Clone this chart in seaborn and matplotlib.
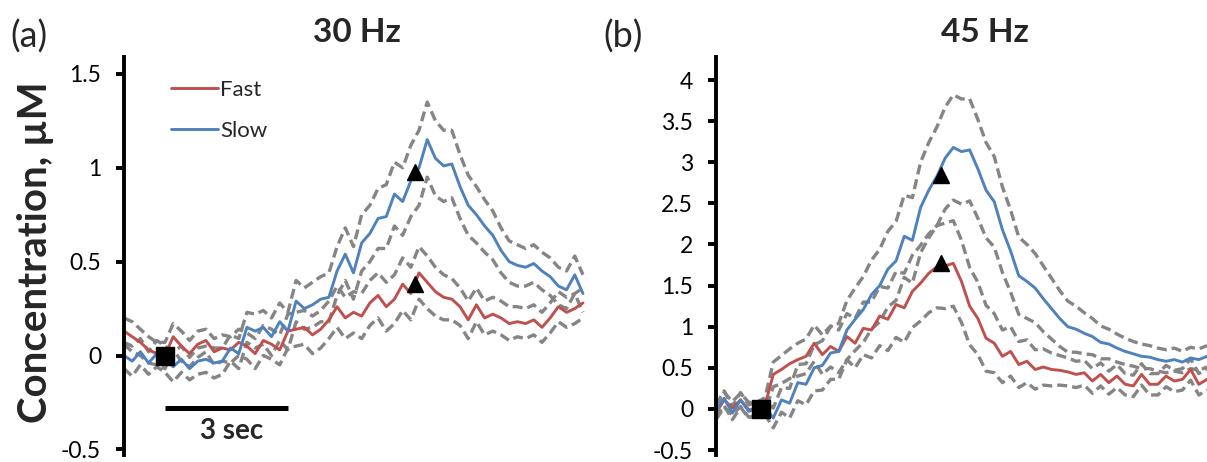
import numpy as np
import pandas as pd
import matplotlib
matplotlib.use("Agg")
import matplotlib.pyplot as plt
import seaborn as sns

# ---------------- data ----------------
# panel (a) 30 Hz, time grid 0..11.2 s, step 0.2 s
time_a = np.round(np.arange(0, 11.2001, 0.2), 2)
slow_a = [0.00, -0.03, 0.02, -0.04, 0.01, -0.02, -0.06, -0.02, -0.07, -0.03,
          -0.02, -0.04, -0.03, 0.04, 0.01, 0.15, 0.13, 0.15, 0.10, 0.18,
          0.13, 0.29, 0.25, 0.27, 0.30, 0.31, 0.45, 0.54, 0.44, 0.60,
          0.65, 0.73, 0.74, 0.86, 0.82, 0.93, 1.00, 1.15, 1.05, 1.01,
          1.02, 0.90, 0.80, 0.75, 0.69, 0.64, 0.56, 0.50, 0.48, 0.47,
          0.49, 0.45, 0.42, 0.37, 0.35, 0.43, 0.33]
fast_a = [0.13, 0.10, 0.07, 0.03, 0.01, 0.00, 0.10, 0.05, 0.01, 0.06,
          0.08, 0.02, 0.04, 0.03, 0.07, 0.05, 0.01, 0.08, 0.06, 0.03,
          0.13, 0.14, 0.15, 0.11, 0.14, 0.19, 0.26, 0.20, 0.23, 0.21,
          0.28, 0.32, 0.26, 0.30, 0.38, 0.33, 0.44, 0.39, 0.34, 0.31,
          0.30, 0.26, 0.19, 0.27, 0.20, 0.22, 0.20, 0.17, 0.18, 0.17,
          0.19, 0.15, 0.20, 0.26, 0.23, 0.25, 0.28]
sem_slow_a = [0.07, 0.08, 0.07, 0.06, 0.07, 0.07, 0.08, 0.07, 0.06, 0.07, 0.07, 0.08, 0.07,
              0.07, 0.08, 0.08, 0.09, 0.09, 0.10, 0.10, 0.10,
              0.11, 0.11, 0.12, 0.12, 0.13, 0.13, 0.14, 0.14, 0.15,
              0.15, 0.16, 0.17, 0.17, 0.18, 0.19, 0.20,
              0.20, 0.20, 0.19, 0.18, 0.17, 0.16, 0.15, 0.14,
              0.13, 0.12, 0.11, 0.11, 0.10, 0.10, 0.10, 0.10, 0.10, 0.10, 0.10, 0.10]
sem_fast_a = [0.07, 0.08, 0.07, 0.07, 0.06, 0.07, 0.07, 0.08, 0.07, 0.07, 0.06, 0.07, 0.07,
              0.07, 0.07, 0.07, 0.08, 0.08, 0.08, 0.08, 0.09,
              0.09, 0.09, 0.10, 0.10, 0.10, 0.11, 0.11, 0.11, 0.12,
              0.12, 0.12, 0.13, 0.13, 0.14, 0.14, 0.14,
              0.14, 0.13, 0.12, 0.11, 0.10, 0.10, 0.09, 0.09,
              0.09, 0.09, 0.09, 0.08, 0.08, 0.08, 0.08, 0.08, 0.08, 0.08, 0.08, 0.08]

# panel (b) 45 Hz, time grid 0..12.0 s, step 0.2 s
time_b = np.round(np.arange(0, 12.0001, 0.2), 2)
slow_b = [-0.03, 0.13, -0.05, 0.11, -0.03, 0.01, 0.02, -0.11, 0.11, 0.07,
          0.32, 0.30, 0.50, 0.53, 0.68, 0.70, 0.96, 1.09, 1.21, 1.39,
          1.50, 1.70, 1.80, 2.10, 2.05, 2.45, 2.66, 2.83, 3.05, 3.18,
          3.13, 3.15, 2.92, 2.66, 2.52, 2.18, 1.92, 1.62, 1.55, 1.47,
          1.34, 1.22, 1.10, 1.00, 0.97, 0.92, 0.88, 0.81, 0.79, 0.74,
          0.70, 0.67, 0.64, 0.63, 0.60, 0.58, 0.60, 0.57, 0.62, 0.60,
          0.64]
fast_b = [-0.05, 0.11, 0.01, 0.11, -0.01, 0.00, 0.05, 0.42, 0.48, 0.55,
          0.60, 0.64, 0.80, 0.66, 0.76, 0.70, 0.88, 0.80, 0.98, 0.96,
          1.13, 1.09, 1.27, 1.23, 1.43, 1.53, 1.65, 1.73, 1.74, 1.77,
          1.55, 1.25, 1.10, 0.86, 0.80, 0.64, 0.70, 0.54, 0.58, 0.48,
          0.51, 0.48, 0.47, 0.45, 0.42, 0.44, 0.34, 0.42, 0.32, 0.40,
          0.30, 0.28, 0.42, 0.30, 0.30, 0.40, 0.34, 0.36, 0.48, 0.30,
          0.36]
sem_slow_b = [0.08, 0.09, 0.08, 0.09, 0.08, 0.08, 0.09,
              0.12, 0.15, 0.18, 0.22, 0.25, 0.28, 0.30, 0.32,
              0.34, 0.36, 0.38, 0.40, 0.42, 0.44, 0.46, 0.48,
              0.50, 0.52, 0.55, 0.58, 0.60, 0.62, 0.64, 0.64,
              0.62, 0.60, 0.58, 0.55, 0.52, 0.50, 0.47, 0.45,
              0.42, 0.40, 0.37, 0.34, 0.31, 0.28, 0.25, 0.22,
              0.20, 0.18, 0.17, 0.16, 0.15, 0.15, 0.14, 0.14,
              0.14, 0.14, 0.13, 0.13, 0.13, 0.13]
sem_fast_b = [0.08, 0.09, 0.08, 0.08, 0.09, 0.08, 0.09,
              0.15, 0.17, 0.18, 0.20, 0.21, 0.22, 0.24, 0.25,
              0.26, 0.28, 0.30, 0.32, 0.34, 0.36, 0.38, 0.40,
              0.42, 0.44, 0.46, 0.48, 0.50, 0.52, 0.52, 0.50,
              0.47, 0.44, 0.40, 0.36, 0.32, 0.30, 0.28, 0.26,
              0.24, 0.22, 0.20, 0.18, 0.17, 0.16, 0.15, 0.15,
              0.14, 0.14, 0.14, 0.13, 0.13, 0.13, 0.13, 0.13,
              0.13, 0.13, 0.13, 0.13, 0.13, 0.13]

# markers: stimulation start (square) and peak times (triangles)
square_t_a, square_t_b = 1.0, 1.1
tri_t_a, tri_slow_a, tri_fast_a = 7.1, 0.98, 0.38
tri_t_b, tri_slow_b, tri_fast_b = 5.5, 2.85, 1.77

ticks_a = [-0.5, 0, 0.5, 1, 1.5]
ticklabels_a = ["-0.5", "0", "0.5", "1", "1.5"]
ticks_b = [-0.5, 0, 0.5, 1, 1.5, 2, 2.5, 3, 3.5, 4]
ticklabels_b = ["-0.5", "0", "0.5", "1", "1.5", "2", "2.5", "3", "3.5", "4"]

titles = ["30 Hz", "45 Hz"]
panel_tags = ["(a)", "(b)"]
series_names = ["Fast", "Slow"]
scale_bar_start, scale_bar_len, scale_bar_level = 1.0, 3.0, -0.277

# ---------------- style ----------------
sns.set_theme(style="white")
plt.rcParams["font.family"] = ["Lato", "DejaVu Sans"]

RED = "#C0504D"
BLUE = "#4F81BD"
GRAY = "#858585"

fig = plt.figure(figsize=(12.07, 4.62), dpi=100)
ax_a = fig.add_axes([124/1207, 7/462, 461/1207, 398/462])
ax_b = fig.add_axes([716/1207, 7/462, 491/1207, 398/462])


def draw_panel(ax, t, fast, slow, sem_f, sem_s, xlim, ylim, ticks, labels):
    fast = np.array(fast); slow = np.array(slow)
    sem_f = np.array(sem_f); sem_s = np.array(sem_s)
    df = pd.DataFrame({"t": t, series_names[0]: fast, series_names[1]: slow,
                       "fu": fast + sem_f, "fl": fast - sem_f,
                       "su": slow + sem_s, "sl": slow - sem_s})
    for col in ["fu", "fl", "su", "sl"]:
        sns.lineplot(data=df, x="t", y=col, ax=ax, color=GRAY, lw=2.4,
                     linestyle=(0, (3.0, 1.5)), legend=False)
    sns.lineplot(data=df, x="t", y=series_names[0], ax=ax, color=RED, lw=2.1,
                 label=series_names[0])
    sns.lineplot(data=df, x="t", y=series_names[1], ax=ax, color=BLUE, lw=2.1,
                 label=series_names[1])
    ax.set_xlim(*xlim)
    ax.set_ylim(*ylim)
    ax.set_yticks(ticks)
    ax.set_yticklabels(labels)
    ax.set_xticks([])
    ax.set_xlabel("")
    ax.set_ylabel("")
    for s in ["top", "right", "bottom"]:
        ax.spines[s].set_visible(False)
    ax.spines["left"].set_linewidth(2.8)
    ax.spines["left"].set_color("black")
    ax.tick_params(axis="y", direction="out", length=5.5, width=2.8,
                   labelsize=16.5, pad=11, colors="black", left=True)
    ax.patch.set_alpha(0)


draw_panel(ax_a, time_a, fast_a, slow_a, sem_fast_a, sem_slow_a,
           (0, 11.25), (-0.53, 1.59), ticks_a, ticklabels_a)
draw_panel(ax_b, time_b, fast_b, slow_b, sem_fast_b, sem_slow_b,
           (0, 12.0), (-0.56, 4.28), ticks_b, ticklabels_b)

# markers
for ax, st, tt, ts, tf in [(ax_a, square_t_a, tri_t_a, tri_slow_a, tri_fast_a),
                           (ax_b, square_t_b, tri_t_b, tri_slow_b, tri_fast_b)]:
    ax.plot([st], [0], marker="s", color="black", ms=12.5, zorder=5, clip_on=False)
    ax.plot([tt, tt], [ts, tf], ls="none", marker="^", color="black", ms=11, zorder=5)

# legend (panel a only)
ax_b.get_legend().remove()
leg = ax_a.legend(loc="upper left", bbox_to_anchor=(0.102, 0.942), frameon=False,
                  fontsize=16, handlelength=2.1, handletextpad=0.12,
                  labelspacing=0.92, borderaxespad=0, borderpad=0)
for h in leg.get_lines():
    h.set_linewidth(2.1)

# scale bar
ax_a.plot([scale_bar_start, scale_bar_start + scale_bar_len],
          [scale_bar_level, scale_bar_level], color="black", lw=3.6,
          solid_capstyle="butt", clip_on=False)
ax_a.text(2.63, -0.40, "3 sec", ha="center", va="center",
          fontsize=20, fontweight="bold")

# titles and tags
fig.text(357/1207, 1 - 32/462, titles[0], ha="center", va="center",
         fontsize=24, fontweight="bold")
fig.text(985/1207, 1 - 32/462, titles[1], ha="center", va="center",
         fontsize=24, fontweight="bold")
fig.text(10/1207, 1 - 37/462, panel_tags[0], ha="left", va="center", fontsize=26)
fig.text(603/1207, 1 - 37/462, panel_tags[1], ha="left", va="center", fontsize=26)
fig.text(36/1207, 1 - 252/462, "Concentration, µM", ha="center", va="center",
         rotation=90, fontsize=29, fontweight="bold")

fig.savefig("out.png", dpi=100)
